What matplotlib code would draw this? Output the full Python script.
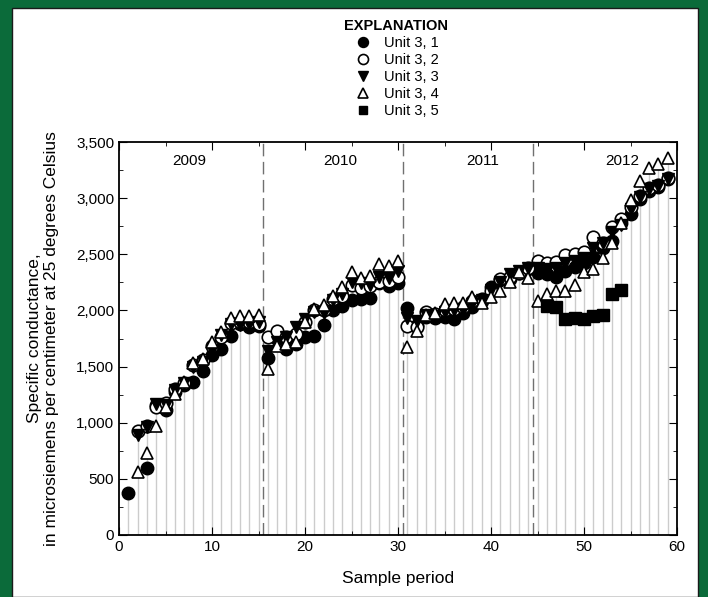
import numpy as np
import matplotlib.pyplot as plt
from matplotlib.patches import Rectangle
from matplotlib.ticker import MultipleLocator, FuncFormatter

plt.rcParams['font.family'] = ['Liberation Sans', 'DejaVu Sans']

nan = np.nan

# Sample periods 1..59
samples = list(range(1, 60))

# Specific conductance for each unit (microsiemens per cm at 25 C)
unit1 = [370, nan, 600, 1160, 1110, 1270, 1340, 1360, 1460, 1600, 1660, 1770, 1880, 1850, 1860,
         1580, 1750, 1660, 1700, 1760, 1770, 1870, 2000, 2040, 2090, 2100, 2110, 2240, 2220, 2240,
         2020, 1870, 1940, 1930, 1940, 1920, 1980, 2030, 2080, 2210, 2270, 2280, 2330, 2370,
         2330, 2320, 2300, 2350, 2390, 2420, 2480, 2560, 2620, 2780, 2860, 2990, 3060, 3100, 3170]
unit2 = [nan, 930, 970, 1140, 1180, 1300, 1350, 1510, 1560, 1680, 1760, 1890, 1900, 1900, 1880,
         1760, 1820, 1760, 1790, 1900, 2000, 2000, 2100, 2130, 2230, 2200, 2220, 2250, 2260, 2300,
         1860, 1850, 1990, 1970, 2000, 2010, 2030, 2080, 2100, 2170, 2280, 2300, 2330, 2380,
         2440, 2420, 2430, 2490, 2500, 2520, 2650, 2600, 2740, 2810, 2920, 3020, 3090, 3120, 3180]
unit3 = [nan, 890, 960, 1170, 1160, 1290, 1350, 1500, 1540, 1650, 1780, 1880, 1870, 1880, 1900,
         1640, 1720, 1760, 1850, 1920, 1990, 1980, 2090, 2150, 2250, 2240, 2230, 2300, 2290, 2350,
         1930, 1910, 1960, 1950, 1990, 2000, 2000, 2060, 2090, 2180, 2250, 2320, 2350, 2380,
         2380, 2370, 2380, 2420, 2440, 2470, 2560, 2600, 2700, 2760, 2900, 3010, 3080, 3110, 3170]
unit4 = [nan, 560, 730, 970, 1140, 1260, 1360, 1530, 1570, 1720, 1810, 1930, 1950, 1950, 1960,
         1480, 1680, 1700, 1720, 1900, 2010, 2050, 2130, 2210, 2340, 2290, 2310, 2410, 2400, 2440,
         1670, 1820, 1960, 1980, 2060, 2070, 2070, 2120, 2070, 2120, 2170, 2250, 2340, 2290,
         2080, 2150, 2170, 2170, 2230, 2340, 2370, 2470, 2600, 2780, 2980, 3150, 3270, 3300, 3360]
unit5 = [nan] * 45 + [2040, 2030, 1920, 1930, 1920, 1950, 1960, 2150, 2180] + [nan] * 5

unit_names = ["Unit 3, 1", "Unit 3, 2", "Unit 3, 3", "Unit 3, 4", "Unit 3, 5"]
years = ["2009", "2010", "2011", "2012"]
year_x = [7.6, 23.8, 39.1, 54.1]
year_breaks = [15.5, 30.5, 44.5]

fig = plt.figure(figsize=(7.08, 5.97), dpi=100)

# Green frame around the white panel
fig.patches.append(Rectangle((0, 0), 1, 1, transform=fig.transFigure,
                             facecolor='#0b6b3a', edgecolor='none', zorder=-3))
fig.patches.append(Rectangle((12 / 708, 0), 686 / 708, 589 / 597, transform=fig.transFigure,
                             facecolor='white', edgecolor='#1a1a1a', linewidth=1, zorder=-2))

ax = fig.add_axes([119 / 708, 62 / 597, 558 / 708, 393 / 597])
ax.set_facecolor('none')

# Drop lines from zero to the highest value of each sample
all_units = np.array([unit1, unit2, unit3, unit4, unit5], dtype=float)
tops = np.nanmax(all_units, axis=0)
ax.vlines(samples, 0, tops, color='#cccccc', linewidth=1, zorder=1)

# Year separators
for xb in year_breaks:
    ax.axvline(xb, color='#707070', linewidth=1, dashes=(9, 4), zorder=1)
for yx, yr in zip(year_x, years):
    ax.text(yx, 3330, yr, ha='center', va='center', fontsize=11)

ms = 9
ax.plot(samples, unit1, 'o', color='black', ms=ms, label=unit_names[0], zorder=3)
ax.plot(samples, unit2, 'o', mfc='white', mec='black', mew=1.2, ms=ms, label=unit_names[1], zorder=3)
ax.plot(samples, unit3, 'v', color='black', ms=ms, label=unit_names[2], zorder=3)
ax.plot(samples, unit4, '^', mfc='white', mec='black', mew=1.2, ms=ms, label=unit_names[3], zorder=3)
ax.plot(samples, unit5, 's', color='black', ms=ms - 1, label=unit_names[4], zorder=3)

ax.set_xlim(0, 60)
ax.set_ylim(0, 3500)
ax.xaxis.set_major_locator(MultipleLocator(10))
ax.xaxis.set_minor_locator(MultipleLocator(5))
ax.yaxis.set_major_locator(MultipleLocator(500))
ax.yaxis.set_minor_locator(MultipleLocator(250))
ax.yaxis.set_major_formatter(FuncFormatter(lambda v, p: f"{int(v):,}"))
ax.tick_params(which='both', direction='in', top=True, right=True, labelsize=11)
ax.tick_params(which='major', length=6)
ax.tick_params(which='minor', length=3)
for s in ax.spines.values():
    s.set_linewidth(1.3)

ax.set_xlabel("Sample period", fontsize=12.5, labelpad=12)
ax.set_ylabel("Specific conductance,\nin microsiemens per centimeter at 25 degrees Celsius",
              fontsize=12.5, labelpad=12)

# Legend at top
leg = fig.legend(loc='upper center', bbox_to_anchor=(0.56, 0.99), frameon=False,
                 title="EXPLANATION", fontsize=10.5, labelspacing=0.2,
                 handletextpad=0.8, handlelength=1.2, markerscale=0.8)
leg.get_title().set_fontweight('bold')
leg.get_title().set_fontsize(10.5)

fig.savefig("out.png", dpi=100)
